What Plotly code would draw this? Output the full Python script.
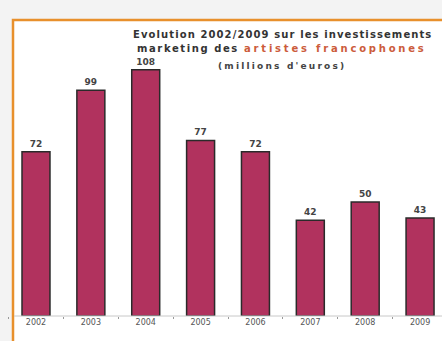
import plotly.graph_objects as go

years = ["2002", "2003", "2004", "2005", "2006", "2007", "2008", "2009"]
values = [72, 99, 108, 77, 72, 42, 50, 43]
title_line1 = "Evolution 2002/2009 sur les investissements"
title_line2a = "marketing des "
title_line2b = "artistes francophones"
title_line3 = "(millions d'euros)"

W, H = 442, 341
base_px = 316.0

fig = go.Figure(go.Bar(
    x=list(range(len(years))), y=values,
    text=[f"<b>{v}</b>" for v in values], textposition="outside",
    textfont=dict(family="DejaVu Sans", size=9, color="#444"),
    marker=dict(color="#b1325e", line=dict(color="#2a2a2a", width=1.5)),
    width=0.51, cliponaxis=False,
))

def py(p):
    return (base_px - p) / base_px

sp = "letter-spacing:1.1px"
fig.update_layout(
    width=W, height=H,
    margin=dict(l=0, r=0, t=0, b=H - base_px),
    paper_bgcolor="#f3f3f3", plot_bgcolor="rgba(0,0,0,0)",
    showlegend=False,
    xaxis=dict(range=[-0.656, 7.40], tickmode="array",
               tickvals=list(range(len(years))), ticktext=years,
               showgrid=False, zeroline=False, showline=False, ticks="",
               minor=dict(ticks="outside", ticklen=2, tick0=0.5, dtick=1,
                          tickcolor="#999", showgrid=False),
               tickfont=dict(family="DejaVu Sans", size=8, color="#555")),
    yaxis=dict(range=[0, base_px / 2.28], visible=False, showgrid=False),
    shapes=[
        dict(type="rect", xref="paper", yref="paper",
             x0=13 / W, x1=1.05, y0=py(345), y1=py(20),
             fillcolor="white", line=dict(color="#e8902c", width=2.5), layer="below"),
        dict(type="line", xref="paper", yref="paper",
             x0=14 / W, x1=1.0, y0=0, y1=0,
             line=dict(color="#c8c8c8", width=1)),
    ],
    annotations=[
        dict(xref="paper", yref="paper", x=282 / W, y=py(34), showarrow=False,
             xanchor="center", yanchor="middle",
             text=f"<span style='{sp}'><b>{title_line1}</b></span>",
             font=dict(family="DejaVu Sans", size=10, color="#333")),
        dict(xref="paper", yref="paper", x=282 / W, y=py(48), showarrow=False,
             xanchor="center", yanchor="middle",
             text=f"<span style='letter-spacing:1.6px'><b>{title_line2a}</b></span><span style='letter-spacing:2.8px;color:#cc5c3c'><b>{title_line2b}</b></span>",
             font=dict(family="DejaVu Sans", size=10, color="#333")),
        dict(xref="paper", yref="paper", x=282 / W, y=py(66), showarrow=False,
             xanchor="center", yanchor="middle",
             text=f"<span style='letter-spacing:2.2px'><b>{title_line3}</b></span>",
             font=dict(family="DejaVu Sans", size=9, color="#444")),
    ],
)

fig.write_html("out.html")
